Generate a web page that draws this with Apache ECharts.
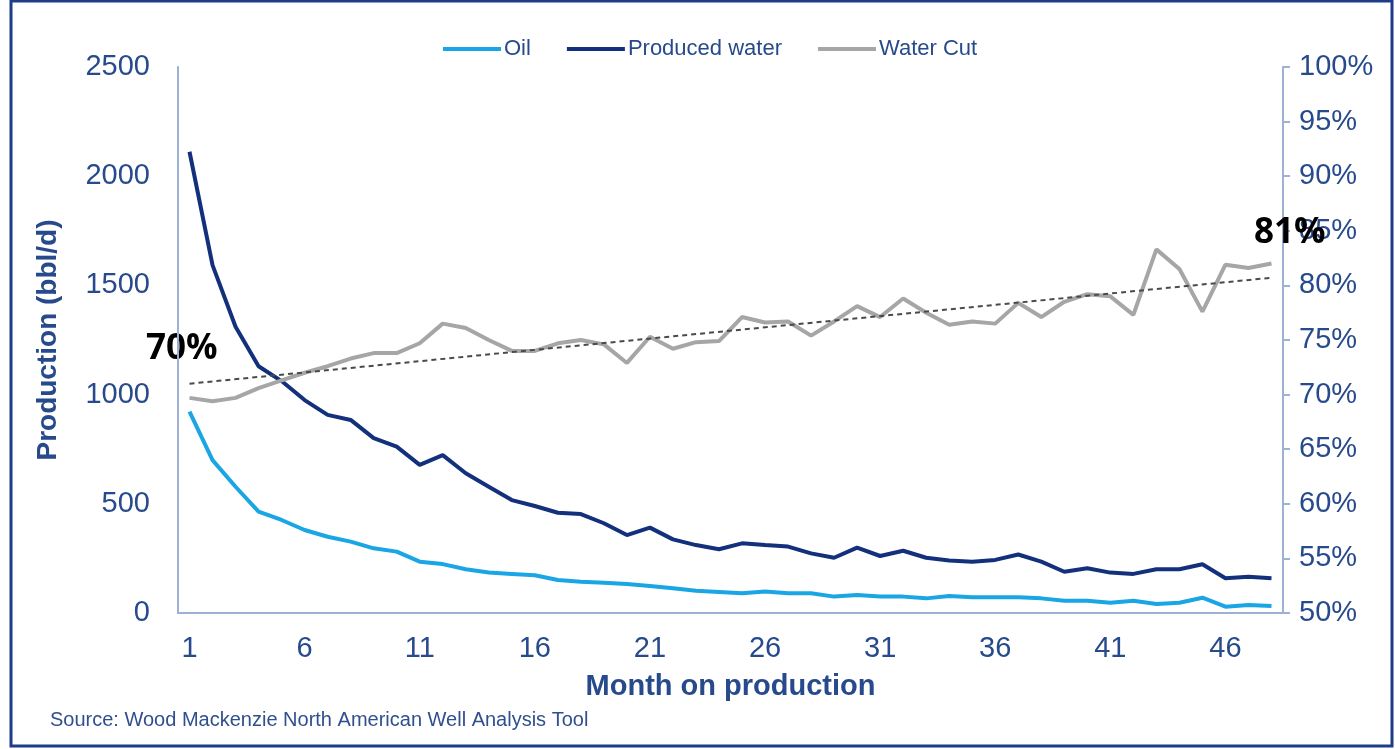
<!DOCTYPE html>
<html>
<head>
<meta charset="utf-8">
<script src="https://cdn.jsdelivr.net/npm/echarts@6/dist/echarts.min.js"></script>
<style>
  html, body { margin: 0; padding: 0; background: #fff; }
  #chart { width: 1395px; height: 749px; }
</style>
</head>
<body>
<div id="chart"></div>
<script>
// 月份 1..48
var months = [];
for (var i = 1; i <= 48; i++) months.push(String(i));

// 产量 (bbl/d)
var oilData = [922, 700, 578, 464, 426, 380, 349, 327, 296, 281, 235, 224,
  200, 185, 179, 173, 151, 143, 139, 133, 124, 113, 102, 96,
  90, 98, 90, 90, 75, 82, 75, 75, 67, 78, 72, 72,
  72, 67, 56, 56, 47, 56, 41, 47, 70, 29, 37, 32];
var waterData = [2112, 1593, 1311, 1130, 1062, 975, 907, 884, 801, 762, 678, 723,
  640, 578, 517, 490, 459, 453, 411, 357, 391, 337, 311, 292,
  319, 311, 304, 273, 253, 299, 261, 285, 253, 240, 235, 243,
  268, 235, 189, 205, 185, 179, 200, 200, 223, 159, 166, 159];
// 含水率 (%)
var cutData = [69.7, 69.4, 69.7, 70.6, 71.3, 72.0, 72.6, 73.3, 73.8, 73.8, 74.7, 76.5,
  76.1, 75.0, 74.0, 74.0, 74.7, 75.0, 74.6, 72.9, 75.3, 74.2, 74.8, 74.9,
  77.1, 76.6, 76.7, 75.4, 76.7, 78.1, 77.1, 78.8, 77.5, 76.4, 76.7, 76.5,
  78.4, 77.1, 78.5, 79.2, 79.0, 77.3, 83.3, 81.5, 77.6, 81.9, 81.6, 82.0];
// 趋势线两端
var trendEnds = [71.0, 80.7];

var leftTicks = { min: 0, max: 2500, interval: 500 };
var rightTicks = { min: 50, max: 100, interval: 5 };

var textColor = '#274a8c';
var axisColor = '#9cb1d4';
var fontFamily = 'Arial, "Liberation Sans", sans-serif';

var myChart = echarts.init(document.getElementById('chart'));
var option = {
    backgroundColor: '#fff',
    animation: false,
    textStyle: { fontFamily: fontFamily },
    legend: {
        top: 33,
        left: 438,
        icon: 'rect',
        itemWidth: 58,
        itemHeight: 4,
        itemGap: 36,
        textStyle: { color: textColor, fontSize: 22, padding: [0, 0, 0, -2] },
        data: ['Oil', 'Produced water', 'Water Cut']
    },
    grid: { left: 178, right: 112, top: 67, bottom: 136 },
    xAxis: {
        type: 'category',
        data: months,
        boundaryGap: true,
        name: 'Month on production',
        nameLocation: 'middle',
        nameGap: 59,
        nameTextStyle: { color: textColor, fontSize: 29, fontWeight: 'bold' },
        axisLine: { lineStyle: { color: axisColor, width: 2 } },
        axisTick: { show: false },
        axisLabel: { interval: 4, color: textColor, fontSize: 29, margin: 21 }
    },
    yAxis: [
        {
            type: 'value',
            min: leftTicks.min,
            max: leftTicks.max,
            interval: leftTicks.interval,
            name: 'Production (bbl/d)',
            nameLocation: 'middle',
            nameGap: 116,
            nameTextStyle: { color: textColor, fontSize: 28, fontWeight: 'bold' },
            axisLine: { show: true, lineStyle: { color: axisColor, width: 2 } },
            axisTick: { show: false },
            axisLabel: { color: textColor, fontSize: 29, margin: 28, formatter: function (v) { return String(v); } },
            splitLine: { show: false }
        },
        {
            type: 'value',
            min: rightTicks.min,
            max: rightTicks.max,
            interval: rightTicks.interval,
            position: 'right',
            axisLine: { show: true, lineStyle: { color: axisColor, width: 2 } },
            axisTick: { show: true, length: 7, lineStyle: { color: axisColor, width: 2 } },
            axisLabel: { color: textColor, fontSize: 29, margin: 16, formatter: '{value}%' },
            splitLine: { show: false }
        }
    ],
    graphic: [
        {
            type: 'rect',
            shape: { x: 11, y: 1, width: 1381, height: 745 },
            style: { fill: 'none', stroke: '#1f3c88', lineWidth: 3 },
            silent: true
        },
        {
            type: 'text',
            left: 50,
            top: 710,
            style: { text: 'Source: Wood Mackenzie North American Well Analysis Tool', fill: '#2f4f8f', fontSize: 20, fontFamily: fontFamily }
        },
        {
            type: 'text',
            left: 146,
            top: 332,
            style: { text: '70%', fill: '#000', fontSize: 35, fontWeight: 'bold', fontFamily: '"Open Sans", sans-serif' }
        },
        {
            type: 'text',
            left: 1254,
            top: 216,
            z: 10,
            style: { text: '81%', fill: '#000', fontSize: 35, fontWeight: 'bold', fontFamily: '"Open Sans", sans-serif' }
        }
    ],
    series: [
        {
            name: 'Oil',
            type: 'line',
            yAxisIndex: 0,
            showSymbol: false,
            smooth: false,
            itemStyle: { color: '#1aa6e4' },
            lineStyle: { width: 4, color: '#1aa6e4' },
            data: oilData
        },
        {
            name: 'Produced water',
            type: 'line',
            yAxisIndex: 0,
            showSymbol: false,
            smooth: false,
            itemStyle: { color: '#13307c' },
            lineStyle: { width: 4, color: '#13307c' },
            data: waterData
        },
        {
            name: 'Water Cut',
            type: 'line',
            yAxisIndex: 1,
            showSymbol: false,
            smooth: false,
            itemStyle: { color: '#a6a6a6' },
            lineStyle: { width: 4, color: '#a6a6a6' },
            data: cutData,
            markLine: {
                silent: true,
                symbol: ['none', 'none'],
                label: { show: false },
                lineStyle: { color: '#4a4a4a', width: 2, type: [5, 4] },
                data: [[
                    { coord: [months[0], trendEnds[0]] },
                    { coord: [months[months.length - 1], trendEnds[1]] }
                ]]
            }
        }
    ]
};
myChart.setOption(option, true);
window.addEventListener('resize', myChart.resize);
</script>
</body>
</html>
